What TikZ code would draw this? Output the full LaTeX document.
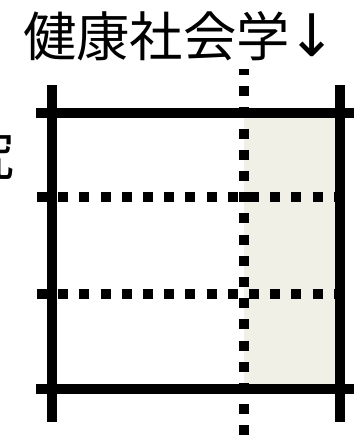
\documentclass[tikz,border=0pt]{standalone}
\usepackage{fontspec}
\newfontfamily\cjk{Noto Sans CJK JP}
\newfontfamily\arrowfont{DejaVu Sans}
\usepackage{tikz}
\usetikzlibrary{calc}
\usepackage{tkz-euclide}
\definecolor{paper}{HTML}{EEECE1}

\begin{document}
\begin{tikzpicture}[x=0.75pt, y=-0.75pt,
    thickline/.style={black, line width=7.5pt, line cap=butt},
    dotline/.style={black, line width=7.5pt, line cap=butt, dash pattern=on 7.5pt off 8.4pt}]
                \clip (0,0) rectangle (354,436);
                \tkzDefPoints{36/113/TL, 354/113/TR, 36/389/BL, 354/389/BR}
                \tkzDefPoints{52/85/LU, 52/422/LD, 340/85/RU, 340/422/RD}
                \tkzDefPoints{244/69/MU, 244/436/MD}
                \tkzDefPoints{37/197/Pa, 340/197/Pb, 37/294/Qa, 340/294/Qb}
                \tkzDefPoints{244/118/S1, 335/384/S2}
                \fill[paper!80] (S1) rectangle (S2);
                \tkzDrawSegments[thickline](TL,TR BL,BR LU,LD RU,RD)
                \tkzDrawSegments[dotline](Pa,Pb Qa,Qb)
                \draw[dotline, dash phase=3pt] (MU) -- (MD);
                \node[font=\cjk\fontsize{40pt}{40pt}\selectfont, inner sep=0pt, anchor=west] (title) at (23,36) {健康社会学{\arrowfont\fontsize{44pt}{44pt}\selectfont\kern-2pt↓}};
                \node[font=\cjk\fontsize{40pt}{40pt}\selectfont, inner sep=0pt] (side) at (-12,155) {究};
            \end{tikzpicture}
\end{document}
